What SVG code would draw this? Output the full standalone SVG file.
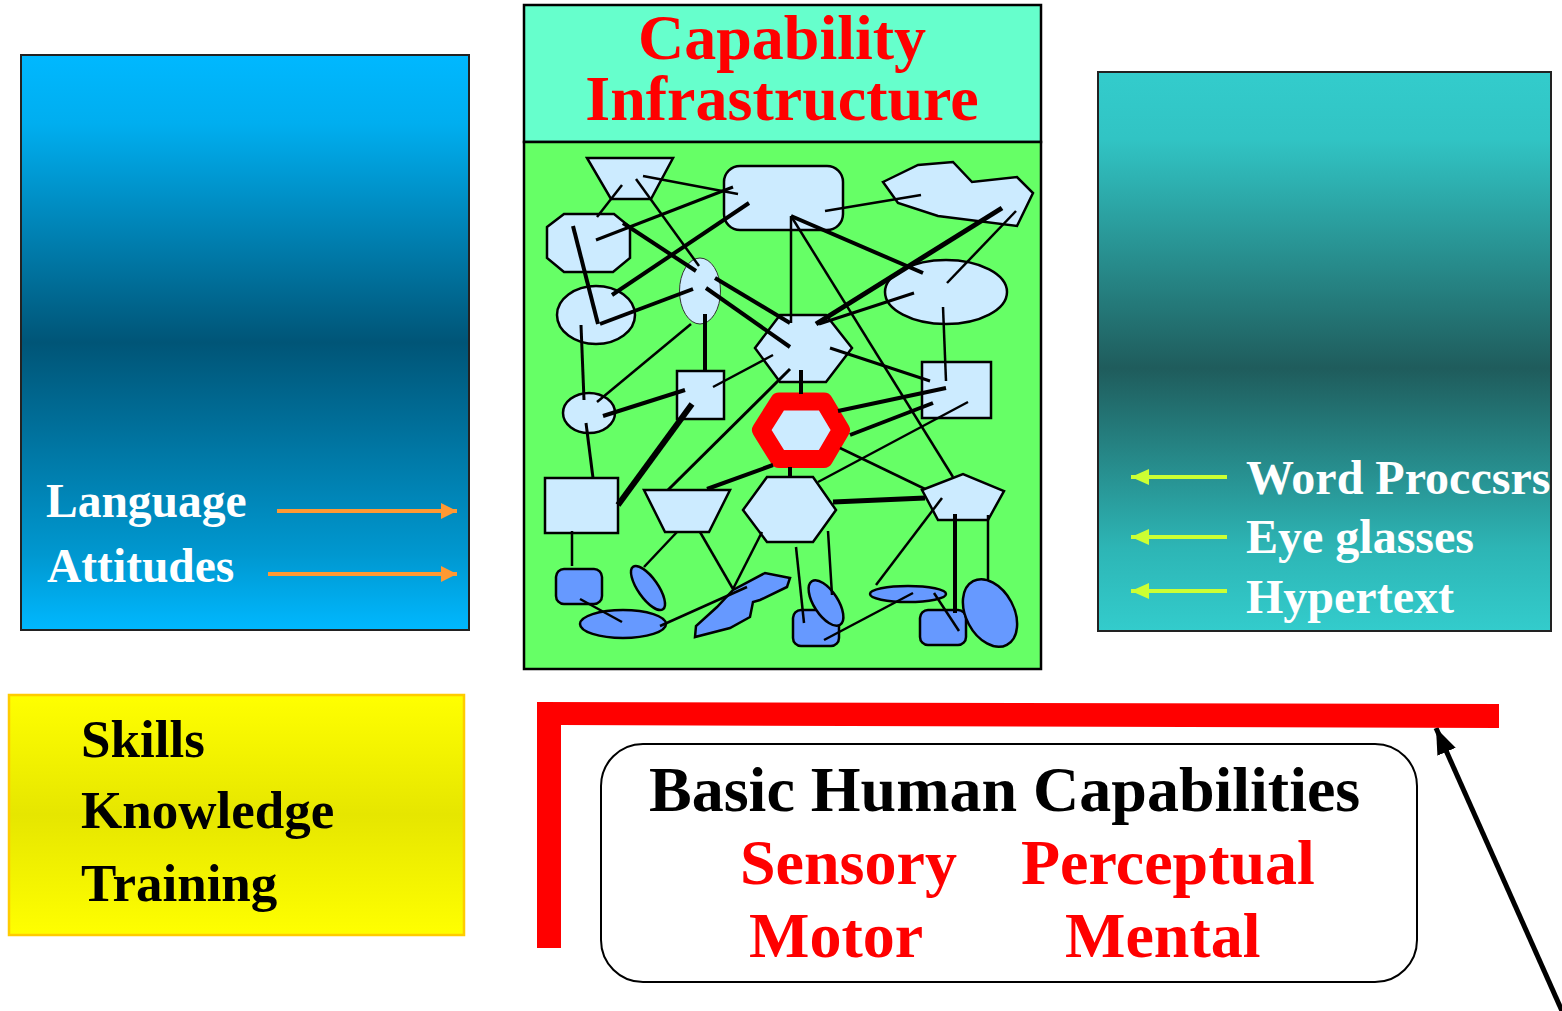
<svg xmlns="http://www.w3.org/2000/svg" width="1562" height="1011" viewBox="0 0 1562 1011">
<style>
.bold{font-family:"Liberation Serif","Times New Roman",serif;font-weight:bold}
.n{fill:#CCEBFF;stroke:#000;stroke-width:2.5}
.b{fill:#6699FF;stroke:#000;stroke-width:2.5}
.e{stroke:#000;fill:none}
.w1{stroke-width:2.5}.w2{stroke-width:3}.w3{stroke-width:4}.w4{stroke-width:5}.w5{stroke-width:6}
.white{fill:#fff;font-size:47.5px}
.wr{fill:#fff;font-size:48px}
.red{fill:#FF0000;font-size:64px}
</style>
<defs>
<linearGradient id="gLeft" x1="0" y1="0" x2="0" y2="1">
<stop offset="0" stop-color="#00B8FF"/>
<stop offset="0.12" stop-color="#00AEEF"/>
<stop offset="0.5" stop-color="#005577"/>
<stop offset="0.87" stop-color="#0098D0"/>
<stop offset="1" stop-color="#00B8FF"/>
</linearGradient>
<linearGradient id="gRight" x1="0" y1="0" x2="0" y2="1">
<stop offset="0" stop-color="#33CCCC"/>
<stop offset="0.12" stop-color="#31C4C4"/>
<stop offset="0.53" stop-color="#1F5C5C"/>
<stop offset="0.85" stop-color="#2DB5B5"/>
<stop offset="1" stop-color="#33CCCC"/>
</linearGradient>
<linearGradient id="gYellow" x1="0" y1="0" x2="0" y2="1">
<stop offset="0" stop-color="#FFFF00"/>
<stop offset="0.5" stop-color="#E6E600"/>
<stop offset="1" stop-color="#FFFF00"/>
</linearGradient>
<marker id="mOrange" markerUnits="userSpaceOnUse" markerWidth="17" markerHeight="16" refX="16" refY="8" orient="auto">
<path d="M0,0 L16,8 L0,16 z" fill="#FF9933"/>
</marker>
<marker id="mGreen" markerUnits="userSpaceOnUse" markerWidth="19" markerHeight="16" refX="18" refY="8" orient="auto">
<path d="M0,0 L18,8 L0,16 z" fill="#CCFF33"/>
</marker>
<marker id="mBlack" markerUnits="userSpaceOnUse" markerWidth="27" markerHeight="20" refX="26" refY="10" orient="auto">
<path d="M0,0 L26,10 L0,20 z" fill="#000"/>
</marker>
</defs>

<g id="left-panel">
<rect x="21" y="55" width="448" height="575" fill="url(#gLeft)" stroke="#222" stroke-width="2"/>
<text class="bold white" x="46" y="517">Language</text>
<text class="bold white" x="47" y="582">Attitudes</text>
</g>

<g id="right-panel">
<rect x="1098" y="72" width="453" height="559" fill="url(#gRight)" stroke="#222" stroke-width="2"/>
<text class="bold wr" x="1246" y="494">Word Proccsrs</text>
<text class="bold wr" x="1246" y="553">Eye glasses</text>
<text class="bold wr" x="1246" y="613">Hypertext</text>
</g>

<g id="capability-infrastructure">
<rect x="524" y="5" width="517" height="137" fill="#66FFCC" stroke="#000" stroke-width="2.5"/>
<rect x="524" y="142" width="517" height="527" fill="#66FF66" stroke="#000" stroke-width="2.5"/>
<text class="bold" x="782" y="59" text-anchor="middle" fill="#FF0000" font-size="64">Capability</text>
<text class="bold" x="782" y="120" text-anchor="middle" fill="#FF0000" font-size="64">Infrastructure</text>
</g>

<g id="network-nodes">
<polygon id="n-trap-top" class="n" points="587,158 673,158 651,199 611,199"/>
<rect id="n-rrect-top" class="n" x="724" y="166" width="119" height="64" rx="16"/>
<polygon id="n-cloud" class="n" points="883,182 918,165 953,162 972,182 1017,177 1033,193 1017,226 938,216 898,203"/>
<polygon id="n-octagon" class="n" points="547,227 564,214 614,214 630,227 630,258 613,272 564,272 547,258"/>
<ellipse id="n-ellipse-left" class="n" cx="596" cy="315" rx="39" ry="29"/>
<ellipse id="n-ellipse-tall" cx="700" cy="291" rx="20.5" ry="33" fill="#CCEBFF" stroke="#333" stroke-width="1"/>
<ellipse id="n-ellipse-big" class="n" cx="946" cy="292" rx="61" ry="32"/>
<polygon id="n-hex-top" class="n" points="755,348 780,315 826,315 852,348 826,382 780,382"/>
<ellipse id="n-ellipse-small" class="n" cx="589" cy="413" rx="26" ry="20"/>
<rect id="n-square-mid" class="n" x="677" y="371" width="47" height="48"/>
<rect id="n-square-right" class="n" x="922" y="362" width="69" height="56"/>
<polygon id="n-hex-red" points="761,430 779,401.5 824,401.5 841,430 824,459 779,459" fill="#CCEBFF" stroke="#FF0000" stroke-width="18" stroke-linejoin="round"/>
<rect id="n-square-low" class="n" x="545" y="478" width="73" height="55"/>
<polygon id="n-trap-low" class="n" points="644,490 730,490 709,532 665,532"/>
<polygon id="n-hex-low" class="n" points="743,510 767,477 813,477 836,510 813,542 767,542"/>
<polygon id="n-pentagon" class="n" points="922,490 963,474 1004,491 988,520 938,520"/>
<rect id="n-b-rsq1" class="b" x="556" y="569" width="46" height="35" rx="8"/>
<ellipse id="n-b-ell1" class="b" cx="623" cy="624" rx="43" ry="14"/>
<ellipse id="n-b-ell2" class="b" cx="648" cy="588" rx="10" ry="26" transform="rotate(-35 648 588)"/>
<polygon id="n-b-zig" class="b" points="695,637 696,626 717,607 733,590 765,573 790,578 787,587 760,600 753,602 750,617 730,628"/>
<rect id="n-b-rsq2" class="b" x="793" y="610" width="46" height="36" rx="8"/>
<ellipse id="n-b-ell3" class="b" cx="826" cy="603" rx="12" ry="26" transform="rotate(-33 826 603)"/>
<ellipse id="n-b-ell4" class="b" cx="908" cy="594" rx="38" ry="8"/>
<rect id="n-b-rsq3" class="b" x="920" y="610" width="46" height="35" rx="8"/>
<ellipse id="n-b-ell5" class="b" cx="990" cy="613" rx="24" ry="36" transform="rotate(-28 990 613)"/>
</g>

<g id="connectors">
<line class="e w1" x1="643" y1="176" x2="738" y2="194"/>
<line class="e w1" x1="622" y1="185" x2="597" y2="217"/>
<line class="e w1" x1="636" y1="179" x2="699" y2="266"/>
<line class="e w2" x1="733" y1="187" x2="596" y2="240"/>
<line class="e w3" x1="749" y1="203" x2="612" y2="295"/>
<line class="e w3" x1="623" y1="223" x2="696" y2="271"/>
<line class="e w3" x1="573" y1="226" x2="598" y2="324"/>
<line class="e w3" x1="600" y1="324" x2="693" y2="289"/>
<line class="e w2" x1="581" y1="325" x2="584" y2="400"/>
<line class="e w1" x1="691" y1="324" x2="597" y2="402"/>
<line class="e w3" x1="705" y1="314" x2="705" y2="371"/>
<line class="e w3" x1="715" y1="278" x2="790" y2="323"/>
<line class="e w3" x1="706" y1="288" x2="790" y2="347"/>
<line class="e w1" x1="713" y1="387" x2="773" y2="355"/>
<line class="e w3" x1="603" y1="416" x2="685" y2="390"/>
<line class="e w2" x1="790" y1="369" x2="668" y2="490"/>
<line class="e w5" x1="692" y1="404" x2="618" y2="505"/>
<line class="e w2" x1="586" y1="423" x2="593" y2="478"/>
<line class="e w3" x1="707" y1="489" x2="773" y2="465"/>
<line class="e w1" x1="572" y1="531" x2="572" y2="566"/>
<line class="e w1" x1="677" y1="532" x2="644" y2="567"/>
<line class="e w1" x1="700" y1="532" x2="733" y2="589"/>
<line class="e w1" x1="733" y1="589" x2="762" y2="532"/>
<line class="e w1" x1="580" y1="599" x2="622" y2="622"/>
<line class="e w1" x1="660" y1="626" x2="747" y2="587"/>
<line class="e w1" x1="825" y1="211" x2="921" y2="195"/>
<line class="e w1" x1="791" y1="216" x2="791" y2="323"/>
<line class="e w3" x1="791" y1="216" x2="923" y2="273"/>
<line class="e w1" x1="791" y1="216" x2="953" y2="477"/>
<line class="e w4" x1="816" y1="324" x2="1002" y2="208"/>
<line class="e w2" x1="819" y1="324" x2="914" y2="293"/>
<line class="e w1" x1="947" y1="283" x2="1016" y2="211"/>
<line class="e w1" x1="943" y1="307" x2="946" y2="381"/>
<line class="e w2" x1="830" y1="348" x2="930" y2="381"/>
<line class="e w3" x1="801" y1="370" x2="801" y2="394"/>
<line class="e w3" x1="838" y1="411" x2="946" y2="388"/>
<line class="e w3" x1="850" y1="435" x2="933" y2="403"/>
<line class="e w1" x1="818" y1="482" x2="968" y2="402"/>
<line class="e w1" x1="840" y1="448" x2="925" y2="489"/>
<line class="e w3" x1="790" y1="467" x2="790" y2="477"/>
<line class="e w4" x1="833" y1="502" x2="925" y2="498"/>
<line class="e w1" x1="942" y1="498" x2="876" y2="585"/>
<line class="e w3" x1="955" y1="514" x2="955" y2="613"/>
<line class="e w1" x1="988" y1="515" x2="988" y2="580"/>
<line class="e w1" x1="796" y1="547" x2="804" y2="623"/>
<line class="e w1" x1="828" y1="531" x2="832" y2="595"/>
<line class="e w1" x1="824" y1="640" x2="913" y2="593"/>
<line class="e w1" x1="934" y1="593" x2="959" y2="631"/>
<line x1="277" y1="511" x2="457" y2="511" stroke="#FF9933" stroke-width="4" marker-end="url(#mOrange)"/>
<line x1="268" y1="574" x2="457" y2="574" stroke="#FF9933" stroke-width="4" marker-end="url(#mOrange)"/>
<line x1="1227" y1="477" x2="1131" y2="477" stroke="#CCFF33" stroke-width="4" marker-end="url(#mGreen)"/>
<line x1="1227" y1="537" x2="1131" y2="537" stroke="#CCFF33" stroke-width="4" marker-end="url(#mGreen)"/>
<line x1="1227" y1="591" x2="1131" y2="591" stroke="#CCFF33" stroke-width="4" marker-end="url(#mGreen)"/>
<line x1="1562" y1="1011" x2="1436" y2="728" stroke="#000" stroke-width="5" marker-end="url(#mBlack)"/>
</g>

<g id="skills-box">
<rect x="9" y="695" width="455" height="240" fill="url(#gYellow)" stroke="#FFCC00" stroke-width="2.5"/>
<text class="bold" x="81" y="757" font-size="53" fill="#000">Skills</text>
<text class="bold" x="81" y="828" font-size="53" fill="#000">Knowledge</text>
<text class="bold" x="81" y="901" font-size="53" fill="#000">Training</text>
</g>

<g id="red-bracket">
<polygon points="537,702 1499,704 1499,728 561,725 561,948 537,948" fill="#FF0000"/>
</g>

<g id="basic-human-capabilities">
<rect x="601" y="744" width="816" height="238" rx="42" ry="42" fill="#fff" stroke="#000" stroke-width="2"/>
<text class="bold" x="649" y="811" font-size="64" fill="#000">Basic Human Capabilities</text>
<text class="bold red" x="740" y="884">Sensory</text>
<text class="bold red" x="1021" y="884">Perceptual</text>
<text class="bold red" x="749" y="957">Motor</text>
<text class="bold red" x="1065" y="957">Mental</text>
</g>
</svg>
